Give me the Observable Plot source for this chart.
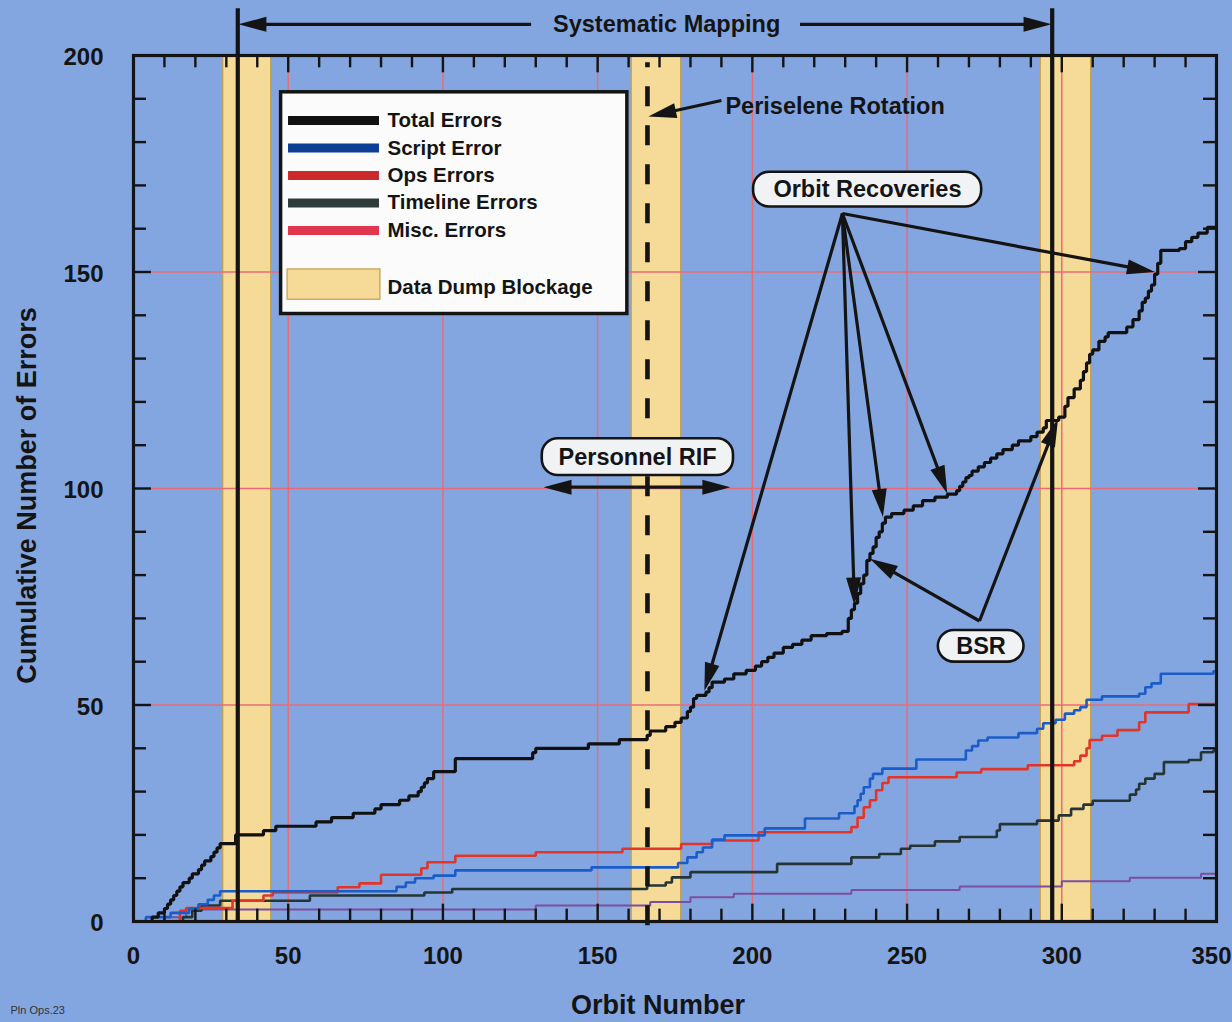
<!DOCTYPE html>
<html>
<head>
<meta charset="utf-8">
<script src="https://cdn.jsdelivr.net/npm/d3@7"></script>
<script src="https://cdn.jsdelivr.net/npm/@observablehq/plot@0.6"></script>
<style>
  html, body { margin: 0; padding: 0; background: #84a6e0; }
  #chart svg { display: block; }
</style>
</head>
<body>
<div id="chart"></div>
<script>
// ---------------- DATA (orbit, cumulative count) ----------------
const totalErrors = [
  [0,0],[6,1],[8,2],[10,3],[11,4],[12,5],[13,6],[14,7],[15,8],[16,9],[18,10],[19,11],[21,12],[22,13],[23,14],
  [25,15],[26,16],[27,17],[28,18],[33,20],[42,21],[46,22],[59,23],[64,24],[71,25],[78,26],[80,27],[86,28],
  [89,29],[92,30],[93,31],[94,32],[95,33],[97,34.6],[104,37.6],[129,39],[130,40],[147,41],[157,42],[166,43],
  [167,44],[172,45],[175,46],[177,47],[179,48.5],[180,49.5],[181,51.5],[182,52.2],[185,53],[186,54],[187,55.3],
  [191,56],[194,57.2],[198,58],[201,59],[203,60],[205,61],[207,62],[210,63.3],[213,64],[216,65],[219,66],
  [224,66.5],[229,67],[231,70],[232,72],[233,73.5],[234,75.7],[235,78],[236,80],[237,83.4],[238,85],[239,86.5],
  [240,88.7],[241,90],[242,92],[243,93.4],[245,94.2],[249,95],[252,96],[255,97.2],[259,98],[263,98.7],[266,99.5],
  [267,100.5],[268,101.5],[269,102.5],[270,103],[271,104],[273,105],[275,106],[277,107],[279,108],[281,109],
  [284,110],[286,111],[290,112],[292,113],[294,114],[295,115.7],[299,116.5],[301,119],[302,121],[304,123],
  [306,125],[307,127],[308,129],[309,131],[310,132],[312,134],[314,135],[315,136],[321,137.3],[323,139],
  [325,141],[326,143],[327,144],[328,145.6],[329,147],[330,149.5],[331,152],[332,155],[338,155.4],[340,157],
  [342,158],[344,159],[347,160.3],[350,160.3]
];
const scriptErrors = [
  [0,0],[4,1],[12,2],[18,3],[21,4],[24,5],[26,6],[28,7],[85,8],[88,9],[91,10],[97,10.6],[104,11.8],[148,12.5],
  [176,13.5],[179,14.8],[182,16],[184,17.1],[187,18.9],[191,19.9],[204,21.5],[217,23.8],[228,25],[233,26.6],
  [234,28],[235,29.5],[236,31],[238,33],[239,34.1],[242,35.3],[253,37.4],[269,39.5],[271,40.5],[273,41.8],
  [276,42.5],[286,43.5],[292,44.5],[294,45.8],[298,46.6],[301,48],[304,48.8],[306,49.5],[308,51.2],[313,52],
  [325,52.6],[327,54.1],[329,55],[332,57.2],[349,57.8],[350,57.8]
];
const opsErrors = [
  [0,0],[15,2.5],[17,3.1],[32,4.8],[42,6],[45,6.7],[66,7.9],[73,8.8],[80,10.8],[93,12.3],[95,13.7],[104,15.2],
  [130,16],[158,16.8],[177,17.9],[187,18.7],[202,20.6],[232,21.8],[234,24],[236,26.4],[238,28],[240,30.3],
  [242,32],[244,33.3],[266,34.4],[274,35.2],[289,36.1],[304,37],[306,38.3],[308,40],[309,41.9],[313,42.9],
  [318,44.2],[325,46],[327,48.3],[341,50.2],[350,50.2]
];
const timelineErrors = [
  [0,0],[16,1],[19,2.5],[22,3.7],[28,4.8],[57,6],[94,6.7],[103,7.5],[166,8.3],[172,9],[174,10.2],[180,11.4],
  [208,13.3],[232,14.8],[241,15.6],[248,16.8],[251,17.5],[259,18.5],[267,19.5],[279,21],[280,22.5],[292,23.3],
  [299,24.5],[303,26],[307,27],[310,27.9],[322,29.3],[324,30.5],[325,31.8],[327,33],[330,34.1],[333,36.8],
  [341,37.3],[345,39.1],[349,39.5],[350,39.5]
];
const miscErrors = [
  [0,0],[10,1],[17,2.8],[130,3.7],[167,4.5],[180,5.6],[194,6.4],[232,7.3],[267,8.1],[300,9.3],[322,10.1],
  [345,11],[350,11]
];
const seriesNames = ["Total Errors", "Script Error", "Ops Errors", "Timeline Errors", "Misc. Errors"];
const blockageStart = [29, 161, 293.2];
const blockageEnd = [44.5, 177, 309.5];
const mappingOrbits = [33.7, 296.9];
const periseleneOrbit = [166.1];
const xTickLabels = [0, 50, 100, 150, 200, 250, 300, 350];
const yTickLabels = [0, 50, 100, 150, 200];
const xGrid = [50, 100, 150, 200, 250, 300];
const yGrid = [50, 100, 150];

// ---------------- LAYOUT ----------------
const W = 1232, H = 1022, mL = 133, mR = 16, mT = 55, mB = 101;
const kx = (W - mL - mR) / 350, ky = (H - mT - mB) / 200;
const INK = "#141414";
const FONT = "'Liberation Sans', Arial, Helvetica, sans-serif";

const toRows = (pts) => pts.map(([orbit, count]) => ({orbit, count}));
const bands = blockageStart.map((s, i) => ({s, e: blockageEnd[i]}));
const xTicks = d3.range(10, 350, 10);
const yTicks = d3.range(10, 200, 10);

// arrows (annotation geometry in data units)
const arrows = [
  {x1: 128.5, y1: 207.2, x2: 33.9, y2: 207.2},
  {x1: 215.4, y1: 207.2, x2: 296.7, y2: 207.2},
  {x1: 190.0, y1: 189.6, x2: 166.4, y2: 185.9},
  {x1: 229.1, y1: 163.5, x2: 184.5, y2: 53.3},
  {x1: 229.1, y1: 163.5, x2: 233.0, y2: 73.0},
  {x1: 229.1, y1: 163.5, x2: 242.2, y2: 93.4},
  {x1: 229.1, y1: 163.5, x2: 263.0, y2: 98.8},
  {x1: 229.1, y1: 163.5, x2: 330.1, y2: 150.0},
  {x1: 162.7, y1: 100.3, x2: 132.5, y2: 100.3},
  {x1: 162.7, y1: 100.3, x2: 192.9, y2: 100.3},
  {x1: 273.4, y1: 69.4, x2: 238.0, y2: 83.8},
  {x1: 273.4, y1: 69.4, x2: 298.8, y2: 116.1}
].map(a => {
  const sx = (a.x2 - a.x1) * kx, sy = (a.y2 - a.y1) * ky;
  const len = Math.hypot(sx, sy), cut = 14 / len;
  return {...a,
    xe: a.x2 - (a.x2 - a.x1) * cut, ye: a.y2 - (a.y2 - a.y1) * cut,
    angle: Math.atan2(sx, sy) * 180 / Math.PI};
});
const headSymbol = {
  draw(ctx) { ctx.moveTo(0, 0); ctx.lineTo(7.5, 28); ctx.lineTo(-7.5, 28); ctx.closePath(); }
};

const labels = [
  {text: "Orbit Recoveries", x1: 200.4, x2: 274.1, y1: 165.0, y2: 173.05, cx: 237.2, cy: 169.0},
  {text: "Personnel RIF", x1: 132.1, x2: 193.9, y1: 103.0, y2: 111.5, cx: 162.9, cy: 107.2},
  {text: "BSR", x1: 260.1, x2: 287.8, y1: 59.9, y2: 67.2, cx: 273.9, cy: 63.5}
];

const legendColors = ["#111111", "#0d3f95", "#cc2a2a", "#2f3b3b", "#e0374f"];
const legendRows = seriesNames.map((name, i) => ({name, color: legendColors[i], y: 185.0 - i * 6.35}));

const lineStyle = [
  {data: miscErrors, stroke: "#7b4f9e", w: 2.0},
  {data: timelineErrors, stroke: "#253535", w: 2.6},
  {data: opsErrors, stroke: "#e2352a", w: 2.6},
  {data: scriptErrors, stroke: "#1a5cc8", w: 2.6},
  {data: totalErrors, stroke: "#111111", w: 3.2}
];

const bold = {fontWeight: "bold", fill: INK};

const chart = Plot.plot({
  width: W, height: H,
  marginLeft: mL, marginRight: mR, marginTop: mT, marginBottom: mB,
  x: {domain: [0, 350], axis: null},
  y: {domain: [0, 200], axis: null},
  style: {background: "#84a6e0", fontFamily: FONT, overflow: "visible"},
  marks: [
    // data dump blockage bands
    Plot.rect(bands, {x1: "s", x2: "e", y1: 0, y2: 200, fill: "#f5da98", stroke: "#c29e4c", strokeWidth: 1.2}),
    // grid
    Plot.ruleX(xGrid, {stroke: "#ea6b78", strokeWidth: 1.5}),
    Plot.ruleY(yGrid, {stroke: "#ea6b78", strokeWidth: 1.5}),
    // series
    ...lineStyle.map(s => Plot.line(toRows(s.data), {
      x: "orbit", y: "count", curve: "step-after", stroke: s.stroke, strokeWidth: s.w,
      strokeLinejoin: "miter"})),
    // inward ticks
    Plot.ruleX(xTicks, {x: d => d, y1: 0, y2: d => d % 50 === 0 ? 4.0 : 2.85, stroke: INK, strokeWidth: 2.4}),
    Plot.ruleX(xTicks, {x: d => d, y1: d => 200 - (d % 50 === 0 ? 4.0 : 2.85), y2: 200, stroke: INK, strokeWidth: 2.4}),
    Plot.ruleY(yTicks, {y: d => d, x1: 0, x2: d => d % 50 === 0 ? 5.8 : 4.2, stroke: INK, strokeWidth: 2.4}),
    Plot.ruleY(yTicks, {y: d => d, x1: d => 350 - (d % 50 === 0 ? 5.8 : 4.2), x2: 350, stroke: INK, strokeWidth: 2.4}),
    // systematic mapping boundaries & periselene rotation
    Plot.ruleX(mappingOrbits, {x: d => d, y1: 0, y2: 210.8, stroke: INK, strokeWidth: 4.2}),
    Plot.ruleX(periseleneOrbit, {x: d => d, y1: -1, y2: 198.3, stroke: INK, strokeWidth: 4.6, strokeDasharray: "20,19"}),
    Plot.frame({stroke: INK, strokeWidth: 3.2}),
    // tick labels
    Plot.text(xTickLabels.filter(d => d < 350), {x: d => d, frameAnchor: "bottom", dy: 42, text: d => String(d), fontSize: 24, ...bold}),
    Plot.text(xTickLabels.filter(d => d === 350), {x: d => d, frameAnchor: "bottom", dy: 42, dx: 15, textAnchor: "end", text: d => String(d), fontSize: 24, ...bold}),
    Plot.text(yTickLabels, {y: d => d, frameAnchor: "left", dx: -30, dy: 2, textAnchor: "end", text: d => String(d), fontSize: 24, ...bold}),
    // axis titles
    Plot.text(["Orbit Number"], {x: 169.5, frameAnchor: "bottom", dy: 92, text: d => d, fontSize: 27, ...bold}),
    Plot.text(["Cumulative Number of Errors"], {y: 98.4, frameAnchor: "left", dx: -106, rotate: -90, textAnchor: "middle", text: d => d, fontSize: 27, ...bold}),
    Plot.text(["Pln Ops.23"], {frameAnchor: "bottom-left", dx: -123, dy: 92, textAnchor: "start", text: d => d, fontSize: 11, fill: "#333"}),
    // legend
    Plot.rect([0], {x1: 47.7, x2: 159.6, y1: 140.3, y2: 191.5, fill: "#fbfbfb", stroke: INK, strokeWidth: 3.5}),
    ...legendRows.map(r => Plot.ruleY([r], {y: "y", x1: 50.1, x2: 79.5, stroke: r.color, strokeWidth: 9})),
    Plot.text(legendRows, {x: 82.1, y: "y", text: "name", textAnchor: "start", fontSize: 20.5, ...bold}),
    Plot.rect([0], {x1: 49.8, x2: 79.8, y1: 143.6, y2: 150.6, fill: "#f5da98", stroke: "#c29e4c", strokeWidth: 1.2}),
    Plot.text(["Data Dump Blockage"], {x: 82.1, y: 146.4, text: d => d, textAnchor: "start", fontSize: 20.5, ...bold}),
    // annotation texts
    Plot.text(["Systematic Mapping"], {x: 172.3, y: 207.2, text: d => d, fontSize: 23.5, ...bold}),
    Plot.text(["Periselene Rotation"], {x: 191.3, y: 188.2, text: d => d, textAnchor: "start", fontSize: 23.5, ...bold}),
    // arrows
    Plot.link(arrows, {x1: "x1", y1: "y1", x2: "xe", y2: "ye", stroke: INK, strokeWidth: 3.2}),
    Plot.dot(arrows, {x: "x2", y: "y2", symbol: headSymbol, r: 10, rotate: "angle", fill: INK, stroke: "none"}),
    // rounded labels
    Plot.rect(labels, {x1: "x1", x2: "x2", y1: "y1", y2: "y2", rx: 16, fill: "#f1f2f4", stroke: INK, strokeWidth: 2.6}),
    Plot.text(labels, {x: "cx", y: "cy", text: "text", fontSize: 23.5, ...bold})
  ]
});
document.getElementById("chart").appendChild(chart);
</script>
</body>
</html>
